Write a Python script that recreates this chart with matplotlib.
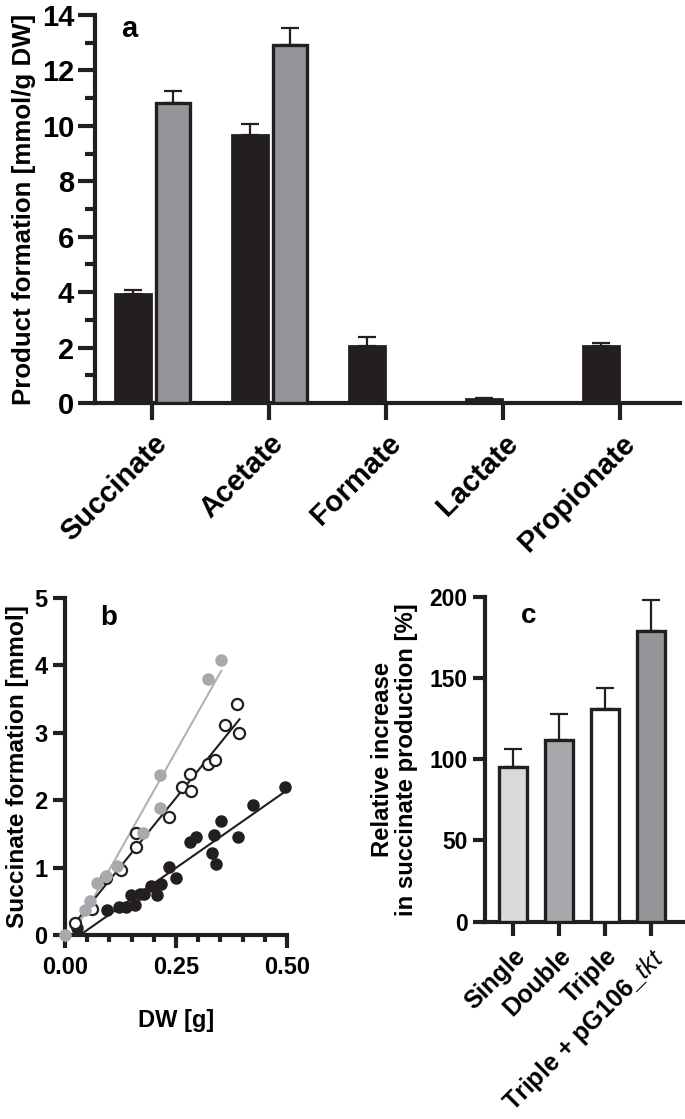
import matplotlib
matplotlib.use("Agg")
import matplotlib.pyplot as plt
import numpy as np

plt.rcParams['font.family'] = ['Liberation Sans', 'DejaVu Sans']
plt.rcParams['font.weight'] = 'bold'
plt.rcParams['axes.labelweight'] = 'bold'
plt.rcParams['mathtext.fontset'] = 'custom'
plt.rcParams['mathtext.it'] = 'Liberation Sans:italic:normal'
plt.rcParams['mathtext.rm'] = 'Liberation Sans:bold'

INK = '#231f20'

# --- panel a: product formation ---
products = ['Succinate', 'Acetate', 'Formate', 'Lactate', 'Propionate']
black_mean = [3.92, 9.66, 2.04, 0.13, 2.05]
black_sd = [0.15, 0.42, 0.35, 0.05, 0.11]
gray_mean = [10.82, 12.90, 0, 0, 0]
gray_sd = [0.43, 0.62, 0, 0, 0]

# --- panel b: succinate vs dry weight ---
gray_x = [0.0, 0.045, 0.057, 0.071, 0.093, 0.117, 0.175, 0.213, 0.214, 0.321, 0.352]
gray_y = [0.0, 0.37, 0.50, 0.77, 0.88, 1.02, 1.51, 1.88, 2.38, 3.80, 4.08]
open_x = [0.022, 0.060, 0.093, 0.127, 0.160, 0.159, 0.234, 0.263, 0.281, 0.284,
          0.323, 0.338, 0.360, 0.387, 0.393]
open_y = [0.18, 0.38, 0.84, 0.97, 1.31, 1.52, 1.75, 2.20, 2.39, 2.13,
          2.53, 2.60, 3.11, 3.43, 3.00]
dark_x = [0.026, 0.095, 0.121, 0.138, 0.149, 0.157, 0.168, 0.177, 0.194, 0.207,
          0.216, 0.235, 0.250, 0.282, 0.295, 0.330, 0.336, 0.341, 0.351, 0.390,
          0.424, 0.495]
dark_y = [0.10, 0.37, 0.41, 0.42, 0.60, 0.45, 0.61, 0.61, 0.73, 0.59,
          0.75, 1.01, 0.84, 1.38, 1.45, 1.21, 1.48, 1.06, 1.69, 1.45,
          1.93, 2.20]

# --- panel c: relative increase ---
strains = ['Single', 'Double', 'Triple', r'Triple + pG106_$\it{tkt}$']
rel_mean = [95, 112, 131, 179]
rel_sd = [11, 16, 13, 19]
rel_colors = ['#d9dadc', '#a7a9ac', '#ffffff', '#939598']

fig = plt.figure(figsize=(6.85, 11.19), dpi=100)


def style_axes(ax, lw=3.0):
    for s in ['top', 'right']:
        ax.spines[s].set_visible(False)
    for s in ['left', 'bottom']:
        ax.spines[s].set_linewidth(lw)
        ax.spines[s].set_color(INK)


# panel a
ax = fig.add_axes([95/685, 1-403/1119, 585/685, 388/1119])
x = np.arange(len(products))
ax.bar(x - 0.165, black_mean, 0.31, color=INK, edgecolor=INK, linewidth=2, zorder=3)
ax.errorbar(x - 0.165, black_mean, yerr=[np.zeros(5), black_sd], fmt='none',
            ecolor=INK, elinewidth=1.6, capsize=6.5, capthick=1.6, zorder=2)
gx = [i for i in x if gray_mean[i] > 0]
gm = [gray_mean[i] for i in gx]
gs = [gray_sd[i] for i in gx]
ax.bar(np.array(gx) + 0.175, gm, 0.29, color='#939598', edgecolor=INK, linewidth=2.4, zorder=3)
ax.errorbar(np.array(gx) + 0.175, gm, yerr=[np.zeros(len(gx)), gs], fmt='none',
            ecolor=INK, elinewidth=1.6, capsize=6.5, capthick=1.6, zorder=2)
ax.set_xlim(-0.49, 4.51)
ax.set_ylim(0, 14)
ax.set_yticks(range(0, 15, 2))
ax.set_yticks(range(1, 15, 2), minor=True)
ax.set_xticks(x)
ax.set_xticklabels(products, rotation=45, ha='right', va='top', rotation_mode='anchor',
                   fontsize=21)
ax.tick_params(axis='y', which='major', length=12, width=3, labelsize=21, pad=3, color=INK)
ax.tick_params(axis='y', which='minor', length=7, width=3, color=INK)
ax.tick_params(axis='x', length=12, width=3, pad=7, color=INK)
ax.set_ylabel('Product formation [mmol/g DW]', fontsize=18.6, labelpad=4)
ax.text(0.045, 0.965, 'a', transform=ax.transAxes, fontsize=21, va='center', ha='left')
style_axes(ax)

# panel b
ax = fig.add_axes([65/685, 1-935/1119, 222/685, 337/1119])
for xs, ys, c in [(gray_x, gray_y, '#b0b2b4'), (open_x, open_y, INK), (dark_x, dark_y, INK)]:
    k, b0 = np.polyfit(xs, ys, 1)
    xl = np.array([min(xs), max(xs)])
    ax.plot(xl, k * xl + b0, color=c, lw=1.5, zorder=2)
ax.plot(dark_x, dark_y, 'o', ms=8, color=INK, mec=INK, zorder=3, clip_on=False)
ax.plot(open_x, open_y, 'o', ms=8, mfc='white', mec=INK, mew=1.6, zorder=3, clip_on=False)
ax.plot(gray_x, gray_y, 'o', ms=8, color='#a7a9ac', mec='#a7a9ac', zorder=4, clip_on=False)
ax.set_xlim(0, 0.5)
ax.set_ylim(0, 5)
ax.set_xticks([0, 0.25, 0.5])
ax.set_xticklabels(['0.00', '0.25', '0.50'])
ax.set_xticks(np.arange(0.05, 0.5, 0.05), minor=True)
ax.set_yticks(range(6))
ax.tick_params(axis='both', which='major', length=9, width=3, labelsize=17, color=INK)
ax.tick_params(axis='x', which='minor', length=5, width=3, color=INK)
ax.tick_params(axis='x', which='major', pad=6)
ax.set_xlabel('DW [g]', fontsize=17, labelpad=22)
ax.set_ylabel('Succinate formation [mmol]', fontsize=17.6, labelpad=4)
ax.text(0.16, 0.94, 'b', transform=ax.transAxes, fontsize=20, va='center', ha='left')
style_axes(ax)

# panel c
ax = fig.add_axes([485/685, 1-921.7/1119, 198/685, 325/1119])
xc = np.arange(len(strains))
ax.bar(xc, rel_mean, 0.62, color=rel_colors, edgecolor=INK, linewidth=2.4, zorder=3)
ax.errorbar(xc, rel_mean, yerr=[np.zeros(4), rel_sd], fmt='none', ecolor=INK,
            elinewidth=1.6, capsize=6.5, capthick=1.6, zorder=2)
ax.set_xlim(-0.61, 3.7)
ax.set_ylim(0, 200)
ax.set_yticks(range(0, 201, 50))
ax.set_xticks(xc)
ax.set_xticklabels(strains, rotation=45, ha='right', va='top', rotation_mode='anchor',
                   fontsize=18)
ax.tick_params(axis='y', length=9, width=3, labelsize=16.5, color=INK)
ax.tick_params(axis='x', length=10, width=3, pad=6, color=INK)
ax.set_ylabel('Relative increase\nin succinate production [%]', fontsize=17.2,
              labelpad=8, linespacing=1.05)
ax.text(0.18, 0.94, 'c', transform=ax.transAxes, fontsize=20, va='center', ha='left')
style_axes(ax)

fig.savefig('out.png', dpi=100)
